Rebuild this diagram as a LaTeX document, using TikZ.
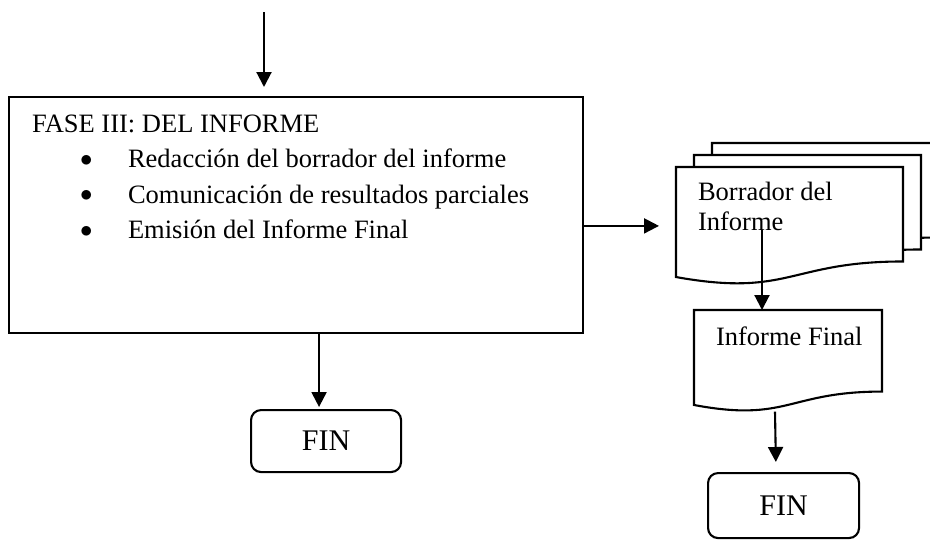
\documentclass[tikz,border=0pt]{standalone}
\usepackage{fontspec}
\setmainfont{Liberation Serif}
\usetikzlibrary{arrows.meta,calc}

\begin{document}
\begin{tikzpicture}[x=1pt,y=-1pt,line width=2.1pt,
    arr/.style={-{Triangle[length=15pt,width=15pt]}},
    texto/.style={font=\fontsize{26.5}{35.5}\selectfont, inner sep=0pt},
    fin/.style={draw, rounded corners=10pt, anchor=north west, inner sep=0pt,
        minimum width=150pt, minimum height=62pt, font=\fontsize{30}{36}\selectfont},
    hoja/.style={inner sep=0pt, outer sep=0pt, anchor=north west,
        minimum width=227pt, minimum height=117.8pt}]
    \clip (0,0) rectangle (930,542);
    % fase III
    \node[draw, anchor=north west, inner sep=0pt, outer sep=0pt,
        minimum width=574pt, minimum height=236pt] (fase) at (9,97) {};
    \node[texto, anchor=north west, align=left] (lista) at (31,113.5) {FASE III: DEL INFORME\\
        \hspace*{48pt}\makebox[48pt][l]{\raisebox{1.5pt}{$\bullet$}}Redacción del borrador del informe\\
        \hspace*{48pt}\makebox[48pt][l]{\raisebox{1.5pt}{$\bullet$}}Comunicación de resultados parciales\\
        \hspace*{48pt}\makebox[48pt][l]{\raisebox{1.5pt}{$\bullet$}}Emisión del Informe Final};
    % documentos
    \node[hoja] (borr3) at (712,143) {};
    \node[hoja] (borr2) at (694,155) {};
    \node[hoja] (borr) at (676,167) {};
    \node[hoja, minimum width=188pt, minimum height=101.7pt] (final) at (694,310) {};
    \foreach \h in {borr3,borr2,borr,final}
        \draw[fill=white] (\h.north west) -- (\h.north east)
            -- ($(\h.south east)!0.198!(\h.north east)$)
            .. controls ($(\h.south)!0.198!(\h.north)$) and ($(\h.south)!-0.1075!(\h.north)$)
            .. ($(\h.south west)!0.066!(\h.north west)$) -- cycle;
    \node[texto, anchor=north west, align=left, font=\fontsize{26.5}{30}\selectfont]
        (borrtxt) at (697,181) {Borrador del\\Informe};
    \node[texto, anchor=base west] (finaltxt) at (715,345) {Informe Final};
    % fin
    \node[fin] (fin1) at (250,409) {FIN};
    \node[fin, minimum width=151pt, minimum height=65pt] (fin2) at (707,472) {FIN};
    % flechas
    \coordinate (entrada) at (264,12);
    \coordinate (sale) at (762,230);
    \draw[arr, shorten >=10pt] (entrada) -- (entrada |- fase.north);
    \draw[arr, shorten >=2pt] ($(fase.south -| fin1.north)+(-7,0)$) -- ($(fin1.north)+(-7,0)$);
    \draw[arr] (fase.east |- borr.west) -- ($(borr.west)+(-17,0)$);
    \draw[arr] (sale) -- (sale |- final.north);
    \draw[arr, shorten >=10pt] ($(final.south)+(-13,0)$) -- ($(fin2.north)+(-7.5,0)$);
\end{tikzpicture}
\end{document}
